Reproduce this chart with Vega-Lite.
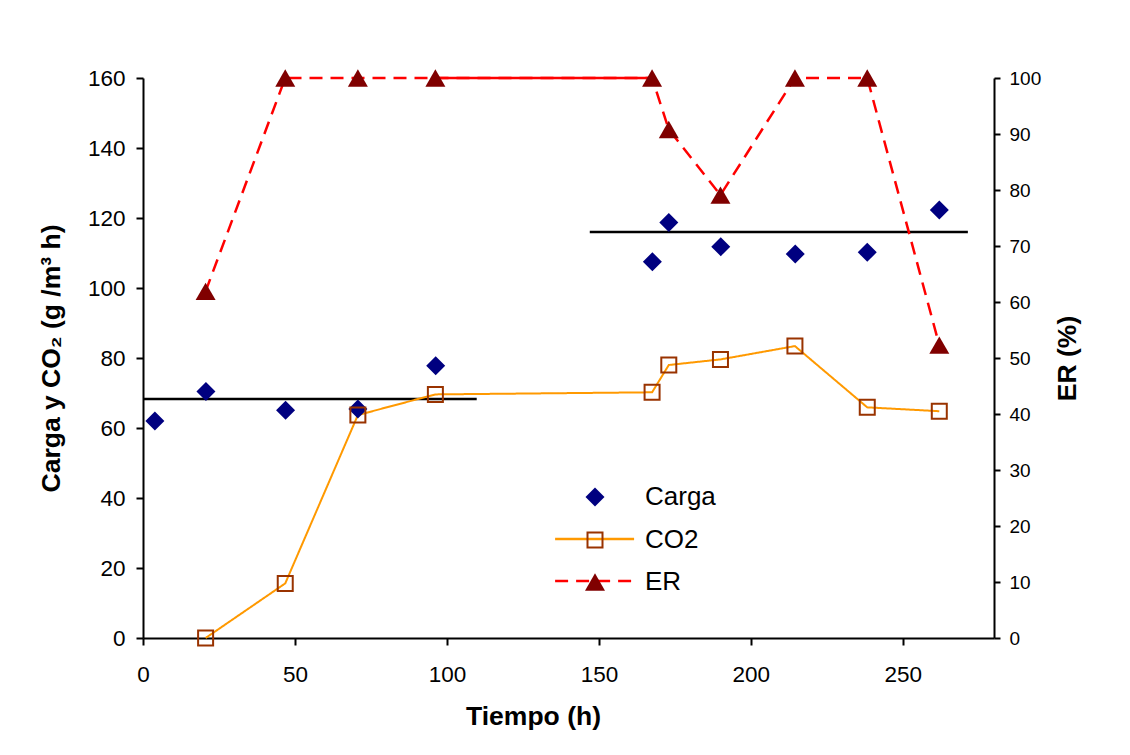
{
  "$schema": "https://vega.github.io/schema/vega-lite/v6.json",
  "width": 851,
  "height": 560,
  "autosize": {"type": "none"},
  "padding": {"left": 143, "top": 78, "right": 136, "bottom": 117},
  "background": "white",
  "config": {
    "font": "Liberation Sans",
    "view": {"stroke": null},
    "axis": {
      "domainColor": "black", "domainWidth": 2,
      "tickColor": "black", "tickWidth": 2, "tickSize": 7,
      "labelColor": "black", "titleColor": "black", "grid": false,
      "labelFont": "Liberation Sans", "titleFont": "Liberation Sans",
      "titleFontWeight": "bold", "titleFontSize": 26.5, "labelFlush": false
    },
    "legend": {
      "labelFont": "Liberation Sans", "labelFontSize": 26, "labelColor": "black",
      "padding": 0, "rowPadding": 16, "labelOffset": 37
    }
  },
  "datasets": {
    "obs": [
      {"t": 3.9, "serie": "Carga", "v": 62.0},
      {"t": 20.7, "serie": "Carga", "v": 70.4},
      {"t": 46.9, "serie": "Carga", "v": 65.1},
      {"t": 70.7, "serie": "Carga", "v": 65.4},
      {"t": 96.3, "serie": "Carga", "v": 77.8},
      {"t": 167.6, "serie": "Carga", "v": 107.5},
      {"t": 173.0, "serie": "Carga", "v": 118.7},
      {"t": 190.1, "serie": "Carga", "v": 111.8},
      {"t": 214.6, "serie": "Carga", "v": 109.7},
      {"t": 238.3, "serie": "Carga", "v": 110.2},
      {"t": 262.0, "serie": "Carga", "v": 122.3},
      {"t": 20.6, "serie": "CO2", "v": 0},
      {"t": 46.8, "serie": "CO2", "v": 15.6},
      {"t": 70.7, "serie": "CO2", "v": 63.7},
      {"t": 96.2, "serie": "CO2", "v": 69.6},
      {"t": 167.5, "serie": "CO2", "v": 70.2},
      {"t": 173.0, "serie": "CO2", "v": 78.0},
      {"t": 190.0, "serie": "CO2", "v": 79.6},
      {"t": 214.5, "serie": "CO2", "v": 83.4},
      {"t": 238.3, "serie": "CO2", "v": 65.9},
      {"t": 262.0, "serie": "CO2", "v": 64.8},
      {"t": 20.6, "serie": "ER", "v": 61.9},
      {"t": 46.8, "serie": "ER", "v": 100},
      {"t": 70.7, "serie": "ER", "v": 100},
      {"t": 96.2, "serie": "ER", "v": 100},
      {"t": 167.5, "serie": "ER", "v": 100},
      {"t": 173.0, "serie": "ER", "v": 90.8},
      {"t": 190.0, "serie": "ER", "v": 79.1},
      {"t": 214.5, "serie": "ER", "v": 100},
      {"t": 238.3, "serie": "ER", "v": 100},
      {"t": 262.0, "serie": "ER", "v": 52.3}
    ],
    "medias": [
      {"t0": 0, "t1": 109.8, "v": 68.3},
      {"t0": 147.0, "t1": 271.4, "v": 116.0}
    ]
  },
  "layer": [
    {
      "layer": [
        {
          "data": {"name": "medias"},
          "mark": {"type": "rule", "color": "black", "strokeWidth": 2.5},
          "encoding": {
            "x": {"field": "t0", "type": "quantitative", "scale": {"domain": [0, 280]},
                  "axis": {"values": [0, 50, 100, 150, 200, 250], "title": "Tiempo (h)", "labelFontSize": 22.5, "labelPadding": 18, "titlePadding": 18, "titleX": 390}},
            "x2": {"field": "t1"},
            "y": {"field": "v", "type": "quantitative", "scale": {"domain": [0, 160]},
                  "axis": {"values": [0, 20, 40, 60, 80, 100, 120, 140, 160], "title": "Carga y CO₂ (g /m³ h)", "labelFontSize": 22.5, "labelPadding": 11, "titlePadding": 22}}
          }
        },
        {
          "data": {"name": "obs"},
          "transform": [{"filter": "datum.serie === 'CO2'"}],
          "mark": {"type": "line", "strokeWidth": 2},
          "encoding": {
            "x": {"field": "t", "type": "quantitative"},
            "y": {"field": "v", "type": "quantitative"},
            "stroke": {"field": "serie", "type": "nominal",
                       "scale": {"domain": ["CO2", "ER"], "range": ["#FF9900", "#FF0000"]},
                       "legend": {"orient": "none", "legendX": 438.6, "legendY": 448, "title": null,
                                  "symbolType": "M-4,0L4,0", "symbolSize": 390, "symbolStrokeWidth": 2.5,
                                  "labelColor": "rgba(0,0,0,0)"}},
            "strokeDash": {"field": "serie", "type": "nominal",
                           "scale": {"domain": ["CO2", "ER"], "range": [[1, 0], [13, 8]]},
                           "legend": {"orient": "none", "legendX": 438.6, "legendY": 448, "title": null,
                                      "symbolType": "M-4,0L4,0", "symbolSize": 390, "symbolStrokeWidth": 2.5,
                                      "labelColor": "rgba(0,0,0,0)"}}
          }
        },
        {
          "data": {"name": "obs"},
          "transform": [{"filter": "datum.serie === 'Carga'"}],
          "mark": {"type": "point", "filled": true, "opacity": 1, "strokeWidth": 0, "size": 361},
          "encoding": {
            "x": {"field": "t", "type": "quantitative"},
            "y": {"field": "v", "type": "quantitative"},
            "shape": {"field": "serie", "type": "nominal",
                      "scale": {"domain": ["Carga", "CO2", "ER"], "range": ["diamond", "square", "triangle-up"]},
                      "legend": {"orient": "none", "legendX": 439, "legendY": 406, "title": null,
                                 "symbolSize": 400, "symbolOpacity": 1,
                                 "encode": {"symbols": {"update": {
                                   "size": {"signal": "datum.value === 'Carga' ? 361 : datum.value === 'CO2' ? 225 : 400"},
                                   "stroke": {"signal": "datum.value === 'CO2' ? '#993300' : 'transparent'"},
                                   "strokeWidth": {"value": 2}}}}}},
            "fill": {"field": "serie", "type": "nominal",
                     "scale": {"domain": ["Carga", "CO2", "ER"], "range": ["#000080", "transparent", "#800000"]},
                     "legend": {"orient": "none", "legendX": 439, "legendY": 406, "title": null,
                                "symbolSize": 400, "symbolOpacity": 1,
                                "encode": {"symbols": {"update": {
                                  "size": {"signal": "datum.value === 'Carga' ? 361 : datum.value === 'CO2' ? 225 : 400"},
                                  "stroke": {"signal": "datum.value === 'CO2' ? '#993300' : 'transparent'"},
                                  "strokeWidth": {"value": 2}}}}}}
          }
        },
        {
          "data": {"name": "obs"},
          "transform": [{"filter": "datum.serie === 'CO2'"}],
          "mark": {"type": "point", "filled": true, "opacity": 1, "stroke": "#993300", "strokeWidth": 2, "size": 225},
          "encoding": {
            "x": {"field": "t", "type": "quantitative"},
            "y": {"field": "v", "type": "quantitative"},
            "shape": {"field": "serie", "type": "nominal"},
            "fill": {"field": "serie", "type": "nominal"}
          }
        }
      ]
    },
    {
      "layer": [
        {
          "data": {"name": "obs"},
          "transform": [{"filter": "datum.serie === 'ER'"}],
          "mark": {"type": "line", "strokeWidth": 2.5},
          "encoding": {
            "x": {"field": "t", "type": "quantitative"},
            "y": {"field": "v", "type": "quantitative", "scale": {"domain": [0, 100]},
                  "axis": {"orient": "right", "values": [0, 10, 20, 30, 40, 50, 60, 70, 80, 90, 100], "title": "ER (%)",
                           "labelFontSize": 19, "labelPadding": 9, "tickSize": 6, "titlePadding": 14,
                           "titleAngle": 270, "titleBaseline": "top"}},
            "stroke": {"field": "serie", "type": "nominal"},
            "strokeDash": {"field": "serie", "type": "nominal"}
          }
        },
        {
          "data": {"name": "obs"},
          "transform": [{"filter": "datum.serie === 'ER' && datum.t >= 96 && datum.t <= 168"}],
          "mark": {"type": "line", "strokeWidth": 2.5, "color": "#FF0000"},
          "encoding": {
            "x": {"field": "t", "type": "quantitative"},
            "y": {"field": "v", "type": "quantitative"}
          }
        },
        {
          "data": {"name": "obs"},
          "transform": [{"filter": "datum.serie === 'ER'"}],
          "mark": {"type": "point", "filled": true, "opacity": 1, "strokeWidth": 0, "size": 400},
          "encoding": {
            "x": {"field": "t", "type": "quantitative"},
            "y": {"field": "v", "type": "quantitative"},
            "shape": {"field": "serie", "type": "nominal"},
            "fill": {"field": "serie", "type": "nominal"}
          }
        }
      ]
    }
  ],
  "resolve": {"scale": {"y": "independent"}}
}
